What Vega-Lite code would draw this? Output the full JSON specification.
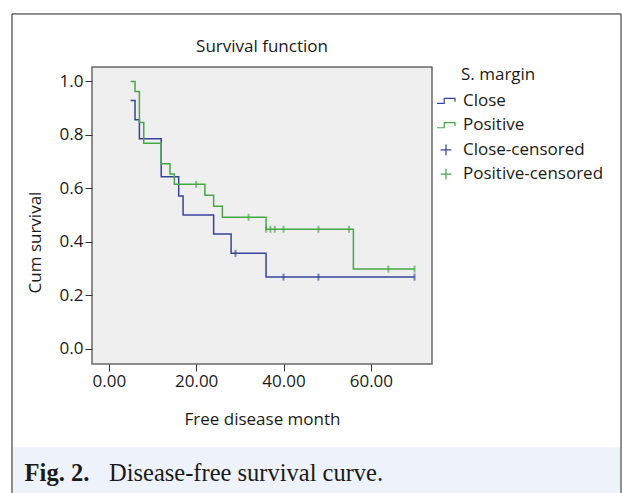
{
  "$schema": "https://vega.github.io/schema/vega-lite/v6.json",
  "width": 340,
  "height": 297,
  "autosize": {"type": "none"},
  "padding": {"left": 92, "top": 67, "right": 190, "bottom": 129},
  "background": "white",
  "datasets": {
    "curves": [
      {"series": "Close", "month": 5, "surv": 0.929},
      {"series": "Close", "month": 6, "surv": 0.857},
      {"series": "Close", "month": 7, "surv": 0.786},
      {"series": "Close", "month": 12, "surv": 0.643},
      {"series": "Close", "month": 16, "surv": 0.571},
      {"series": "Close", "month": 17, "surv": 0.5},
      {"series": "Close", "month": 24, "surv": 0.429},
      {"series": "Close", "month": 28, "surv": 0.357},
      {"series": "Close", "month": 36, "surv": 0.268},
      {"series": "Close", "month": 70, "surv": 0.268},
      {"series": "Positive", "month": 5, "surv": 1.0},
      {"series": "Positive", "month": 6, "surv": 0.962},
      {"series": "Positive", "month": 7, "surv": 0.846},
      {"series": "Positive", "month": 8, "surv": 0.769},
      {"series": "Positive", "month": 12, "surv": 0.692},
      {"series": "Positive", "month": 14, "surv": 0.654},
      {"series": "Positive", "month": 15, "surv": 0.615},
      {"series": "Positive", "month": 22, "surv": 0.574},
      {"series": "Positive", "month": 24, "surv": 0.533},
      {"series": "Positive", "month": 26, "surv": 0.492},
      {"series": "Positive", "month": 36, "surv": 0.447},
      {"series": "Positive", "month": 56, "surv": 0.298},
      {"series": "Positive", "month": 70, "surv": 0.298}
    ],
    "censored": [
      {"series": "Close-censored", "month": 29, "surv": 0.357},
      {"series": "Close-censored", "month": 40, "surv": 0.268},
      {"series": "Close-censored", "month": 48, "surv": 0.268},
      {"series": "Close-censored", "month": 70, "surv": 0.268},
      {"series": "Positive-censored", "month": 20, "surv": 0.615},
      {"series": "Positive-censored", "month": 32, "surv": 0.492},
      {"series": "Positive-censored", "month": 36, "surv": 0.447},
      {"series": "Positive-censored", "month": 37, "surv": 0.447},
      {"series": "Positive-censored", "month": 38, "surv": 0.447},
      {"series": "Positive-censored", "month": 40, "surv": 0.447},
      {"series": "Positive-censored", "month": 48, "surv": 0.447},
      {"series": "Positive-censored", "month": 55, "surv": 0.447},
      {"series": "Positive-censored", "month": 64, "surv": 0.298},
      {"series": "Positive-censored", "month": 70, "surv": 0.298}
    ]
  },
  "layer": [
    {
      "data": {"values": [{}]},
      "mark": {"type": "rect", "fill": "#eef2fa", "stroke": null},
      "encoding": {
        "x": {"datum": -22.06, "type": "quantitative", "scale": {"domain": [-3.85, 74.0], "nice": false, "zero": false}, "title": "Free disease month"},
        "x2": {"datum": 117.17},
        "y": {"datum": -0.368, "type": "quantitative", "scale": {"domain": [-0.057, 1.054], "nice": false, "zero": false}, "title": "Cum survival"},
        "y2": {"datum": -0.604}
      }
    },
    {
      "data": {"values": [{}]},
      "mark": {"type": "rect", "fill": null, "stroke": "#222222", "strokeWidth": 1},
      "encoding": {
        "x": {"datum": -22.17, "type": "quantitative", "scale": {"domain": [-3.85, 74.0], "nice": false, "zero": false}, "title": "Free disease month"},
        "x2": {"datum": 117.28},
        "y": {"datum": 1.2524, "type": "quantitative", "scale": {"domain": [-0.057, 1.054], "nice": false, "zero": false}, "title": "Cum survival"},
        "y2": {"datum": -0.604}
      }
    },
    {
      "data": {"values": [{}]},
      "mark": {"type": "text", "text": "Survival function", "font": "Open Sans", "fontSize": 17, "align": "center", "baseline": "middle", "color": "#1a1a1a"},
      "encoding": {
        "x": {"datum": 35.075, "type": "quantitative", "scale": {"domain": [-3.85, 74.0], "nice": false, "zero": false}, "title": "Free disease month"},
        "y": {"datum": 1.129, "type": "quantitative", "scale": {"domain": [-0.057, 1.054], "nice": false, "zero": false}, "title": "Cum survival"}
      }
    },
    {
      "data": {"values": [{}]},
      "mark": {"type": "text", "text": "Fig. 2.", "font": "Liberation Serif", "fontSize": 24.5, "fontWeight": "bold", "align": "left", "baseline": "middle", "color": "#1a1a1a"},
      "encoding": {
        "x": {"datum": -19.28, "type": "quantitative", "scale": {"domain": [-3.85, 74.0], "nice": false, "zero": false}, "title": "Free disease month"},
        "y": {"datum": -0.469, "type": "quantitative", "scale": {"domain": [-0.057, 1.054], "nice": false, "zero": false}, "title": "Cum survival"}
      }
    },
    {
      "data": {"values": [{}]},
      "mark": {"type": "text", "text": "Disease-free survival curve.", "font": "Liberation Serif", "fontSize": 24.5, "fontWeight": "normal", "align": "left", "baseline": "middle", "color": "#1a1a1a"},
      "encoding": {
        "x": {"datum": 0.04, "type": "quantitative", "scale": {"domain": [-3.85, 74.0], "nice": false, "zero": false}, "title": "Free disease month"},
        "y": {"datum": -0.469, "type": "quantitative", "scale": {"domain": [-0.057, 1.054], "nice": false, "zero": false}, "title": "Cum survival"}
      }
    },
    {
      "data": {"name": "curves"},
      "mark": {"type": "line", "interpolate": "step-after", "strokeWidth": 1.5},
      "encoding": {
        "x": {"field": "month", "type": "quantitative", "scale": {"domain": [-3.85, 74.0], "nice": false, "zero": false}, "title": "Free disease month", "axis": {"values": [0, 20, 40, 60], "format": ".2f"}},
        "y": {"field": "surv", "type": "quantitative", "scale": {"domain": [-0.057, 1.054], "nice": false, "zero": false}, "title": "Cum survival", "axis": {"values": [0, 0.2, 0.4, 0.6, 0.8, 1.0], "format": ".1f"}},
        "color": {
          "field": "series", "type": "nominal",
          "scale": {"domain": ["Close", "Positive", "Close-censored", "Positive-censored"], "range": ["#34449a", "#45a845", "#34449a", "#45a845"]},
          "legend": {
            "title": "S. margin",
            "encode": {
              "symbols": {"update": {
                "shape": {"signal": "indexof(datum.value, 'censored') >= 0 ? 'M-0.6,0H0.6M0,-0.6V0.6' : 'M-1,0.26H-0.2V-0.3H1V0.07'"},
                "fill": {"value": "transparent"},
                "fillOpacity": {"value": 0},
                "stroke": {"scale": "color", "field": "value"},
                "strokeWidth": {"value": 1.2},
                "opacity": {"value": 1}
              }},
              "title": {"update": {"dx": {"value": 25}}}
            }
          }
        }
      }
    },
    {
      "data": {"name": "censored"},
      "mark": {"type": "tick", "orient": "vertical", "size": 7, "thickness": 2, "opacity": 0.65},
      "encoding": {
        "x": {"field": "month", "type": "quantitative", "scale": {"domain": [-3.85, 74.0], "nice": false, "zero": false}, "title": "Free disease month"},
        "y": {"field": "surv", "type": "quantitative", "scale": {"domain": [-0.057, 1.054], "nice": false, "zero": false}, "title": "Cum survival"},
        "color": {
          "field": "series", "type": "nominal",
          "scale": {"domain": ["Close", "Positive", "Close-censored", "Positive-censored"], "range": ["#34449a", "#45a845", "#34449a", "#45a845"]}
        }
      }
    }
  ],
  "config": {
    "font": "Open Sans",
    "view": {"fill": "#efefef", "stroke": "#6a6a6a", "strokeWidth": 1.5},
    "axis": {"labelFont": "Open Sans", "labelFontSize": 17, "labelColor": "#1a1a1a", "titleFont": "Open Sans", "titleFontSize": 17, "titleFontWeight": "normal", "titleColor": "#1a1a1a", "tickColor": "#333333", "tickSize": 7, "domain": false, "grid": false, "labelPadding": 2},
    "axisX": {"titlePadding": 22},
    "axisY": {"titleX": -57, "titleY": 175, "titleAlign": "center", "titleBaseline": "middle", "titleAngle": -90},
    "legend": {"orient": "right", "offset": 4, "padding": 0, "symbolSize": 324, "labelOffset": 7, "rowPadding": 6.4, "titlePadding": 7, "labelFontSize": 17, "titleFontSize": 17, "titleFontWeight": "normal", "labelFont": "Open Sans", "titleFont": "Open Sans", "labelColor": "#1a1a1a", "titleColor": "#1a1a1a", "symbolStrokeWidth": 1.2}
  }
}
